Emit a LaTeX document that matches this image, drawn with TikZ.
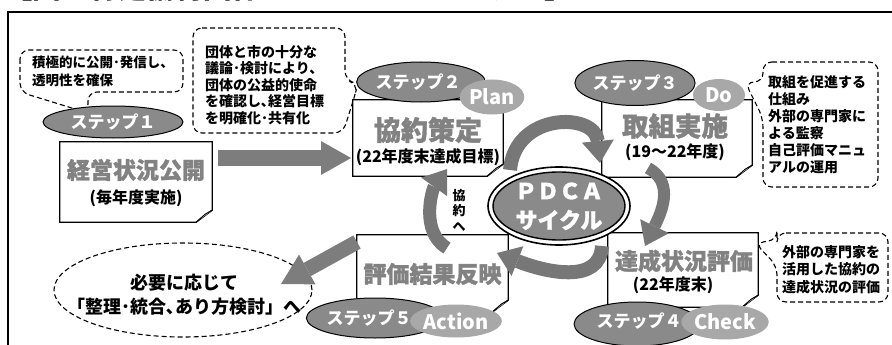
\documentclass[tikz,border=0pt]{standalone}
\usepackage{fontspec}
\setmainfont{Noto Sans CJK JP}
\newfontfamily\heavyjp{Noto Sans CJK JP}[BoldFeatures={FakeBold=1.2}]
\usetikzlibrary{arrows.meta,shapes.geometric,calc}
\definecolor{stepfill}{HTML}{8A8A8A}
\definecolor{tagfill}{HTML}{A8A8A8}
\definecolor{headgray}{HTML}{828282}
\definecolor{arrowgray}{HTML}{7D7D7D}
\definecolor{cyclegray}{HTML}{777777}
\tikzset{
  boxline/.style={draw=black, line width=1.3pt, fill=white, line join=miter},
  boxnode/.style={rectangle, inner sep=0pt, draw=none},
  stepell/.style={ellipse, draw=black, line width=1pt, fill=stepfill, inner sep=0pt, text=white, font=\bfseries\fontsize{17}{17}\selectfont},
  tagell/.style={ellipse, fill=tagfill, inner sep=0pt, text=white, font=\bfseries\fontsize{20}{20}\selectfont},
  callout/.style={draw=black, line width=1.1pt, dash pattern=on 5pt off 3pt, rounded corners=9pt},
  headtext/.style={inner sep=0pt, text=headgray, font=\heavyjp\bfseries\fontsize{23}{23}\selectfont},
  bighead/.style={inner sep=0pt, text=headgray, font=\heavyjp\bfseries\fontsize{27}{27}\selectfont},
  subtext/.style={inner sep=0pt, font=\bfseries\fontsize{16}{16}\selectfont},
  notetext/.style={inner sep=0pt, anchor=west, align=left, font=\bfseries\fontsize{14}{17}\selectfont},
  bigarrow/.style={draw=arrowgray, line width=16pt, -{Triangle[width=34pt,length=30pt,line width=0pt]}},
  cycarrow/.style={draw=cyclegray, line width=14pt, -{Triangle[width=32pt,length=22pt,line width=0pt]}},
}
\newcommand\FoldBox[1]{%
  \draw[boxline] (#1.north west) -- (#1.north east) -- ([yshift=12pt]#1.south east) -- ([xshift=-16pt]#1.south east) -- (#1.south west) -- cycle;
  \draw[line width=1pt, fill=white, line join=round] ([yshift=12pt]#1.south east) -- ([xshift=-7pt,yshift=8pt]#1.south east) -- ([xshift=-16pt]#1.south east);
}
\begin{document}
\begin{tikzpicture}[x=1pt,y=-1pt]
\useasboundingbox (0,0) rectangle (892,345);
% title and frame
\node[anchor=base west, inner sep=0pt, font=\bfseries\fontsize{28.5}{28.5}\selectfont] (title) at (4,-1) {【図　特定協約団体マネジメントサイクル】};
\draw[line width=1.5pt] (8,360) -- (8,12) -- (900,12);

% callouts
\draw[callout] (20,50) -- (20,92) -- (88,113) -- (88,92) -- (183,92) -- (183,50) -- cycle;
\node[notetext, font=\bfseries\fontsize{13.5}{18}\selectfont] (n1) at (32,71) {積極的に公開･発信し、\\透明性を確保};

\draw[callout] (193,28) -- (345,28) -- (345,80) -- (358,84) -- (354,98) -- (343,133) -- (193,133) -- cycle;
\node[notetext, font=\bfseries\fontsize{14}{16.5}\selectfont] (n2) at (205,85) {団体と市の十分な\\議論･検討により、\\団体の公益的使命\\を確認し､経営目標\\を明確化･共有化};

\draw[callout] (763,62) -- (878,62) -- (878,187) -- (763,187) -- (763,118) -- (745,82) -- (763,82) -- cycle;
\node[notetext] (n3) at (768,124.5) {取組を促進する\\仕組み\\外部の専門家に\\よる監察\\自己評価マニュ\\アルの運用};

\draw[callout] (777,233) -- (888,233) -- (888,302) -- (777,302) -- (777,266) -- (755,243) -- (777,240) -- cycle;
\node[notetext, font=\bfseries\fontsize{14}{17.5}\selectfont] (n4) at (782,269.5) {外部の専門家を\\活用した協約の\\達成状況の評価};

% goal ellipse
\node[ellipse, draw, line width=1.1pt, dash pattern=on 5pt off 3pt, minimum width=258pt, minimum height=94pt, inner sep=0pt] (goal) at (183,290) {};
\node[align=center, inner sep=0pt, font=\bfseries\fontsize{18}{24}\selectfont] (goaltext) at (184,295) {必要に応じて\\「整理･統合､あり方検討」へ};

% boxes
\node[boxnode, minimum width=152pt, minimum height=80pt] (b1) at (136,182) {};
\node[boxnode, minimum width=150pt, minimum height=76pt] (b2) at (428,138) {};
\node[boxnode, minimum width=150pt, minimum height=77pt] (b3) at (677,138.5) {};
\node[boxnode, minimum width=150pt, minimum height=74pt] (b4) at (683,270) {};
\node[boxnode, minimum width=151pt, minimum height=77pt] (b5) at (432.5,273.5) {};
\FoldBox{b1}\FoldBox{b2}\FoldBox{b3}\FoldBox{b4}\FoldBox{b5}

% big straight arrows
\coordinate (a1s) at (218,158);
\coordinate (a1e) at (351,158);
\draw[bigarrow] (a1s) -- (a1e);
\coordinate (a2s) at (357,242);
\coordinate (a2e) at (281,284);
\draw[bigarrow, line width=15pt] (a2s) -- (a2e);

% cycle arrows
\coordinate (tA1) at (510,170);
\coordinate (tA2) at (600,163);
\draw[cycarrow] (tA1) .. controls (515,112) and (595,112) .. (tA2);
\coordinate (rA1) at (648,168);
\coordinate (rA2) at (645,246);
\draw[cycarrow, line width=12pt] (rA1) .. controls (676,183) and (660,215) .. (rA2);
\coordinate (bA1) at (602,246);
\coordinate (bA2) at (497,253);
\draw[cycarrow] (bA1) .. controls (600,285) and (545,272) .. (bA2);
\coordinate (lA1) at (447,248);
\coordinate (lA2) at (447,169);
\draw[cycarrow, line width=13pt] (lA1) .. controls (420,232) and (432,190) .. (lA2);

% PDCA
\node[ellipse, draw, line width=1.6pt, fill=white, minimum width=142pt, minimum height=78pt, inner sep=0pt] (pdca) at (559,206) {};
\draw[line width=1.4pt, fill=stepfill] (pdca.center) ellipse [x radius=66pt, y radius=34pt];
\node[inner sep=0pt, text=white, font=\heavyjp\bfseries\fontsize{22}{22}\selectfont] (pdcat1) at (559,191) {ＰＤＣＡ};
\node[inner sep=0pt, text=white, font=\heavyjp\bfseries\fontsize{22}{22}\selectfont] (pdcat2) at (559,220) {サイクル};
\node[align=center, inner sep=0pt, font=\bfseries\fontsize{13}{15.5}\selectfont] (kyoyaku) at (459,210) {協\\約\\へ};

% step ellipses
\node[stepell, minimum width=140pt, minimum height=32pt] (s1) at (113,122) {ステップ１};
\node[stepell, minimum width=128pt, minimum height=40pt] (s2) at (421,82) {ステップ２\hspace*{6pt}};
\node[tagell, minimum width=55pt, minimum height=35pt] (plan) at (492,97) {Plan};
\node[stepell, minimum width=118pt, minimum height=45pt] (s3) at (635,83) {\raisebox{-2pt}{ステップ３}};
\node[tagell, minimum width=52pt, minimum height=32pt] (do) at (719,95) {Do};
\node[stepell, minimum width=120pt, minimum height=44pt] (s4) at (637,324) {\raisebox{7pt}{\hspace*{4pt}ステップ４}};
\node[tagell, minimum width=76pt, minimum height=35pt] (check) at (725,322) {Check};
\node[stepell, minimum width=130pt, minimum height=40pt] (s5) at (375,318) {ステップ５\hspace*{12pt}};
\node[tagell, minimum width=82pt, minimum height=33pt] (action) at (456,321) {Action};

% box texts
\node[headtext] (h1) at (136,170) {経営状況公開};
\node[subtext] (t1) at (136,198) {(毎年度実施)};
\node[bighead] (h2) at (428,130) {協約策定};
\node[subtext] (t2) at (428,157) {(22年度末達成目標)};
\node[bighead, font=\heavyjp\bfseries\fontsize{26.5}{26.5}\selectfont] (h3) at (675,126) {取組実施};
\node[subtext] (t3) at (675,152) {(19～22年度)};
\node[headtext] (h4) at (684,261) {達成状況評価};
\node[subtext] (t4) at (673,285) {(22年度末)};
\node[headtext] (h5) at (432.5,274) {評価結果反映};
\end{tikzpicture}
\end{document}
